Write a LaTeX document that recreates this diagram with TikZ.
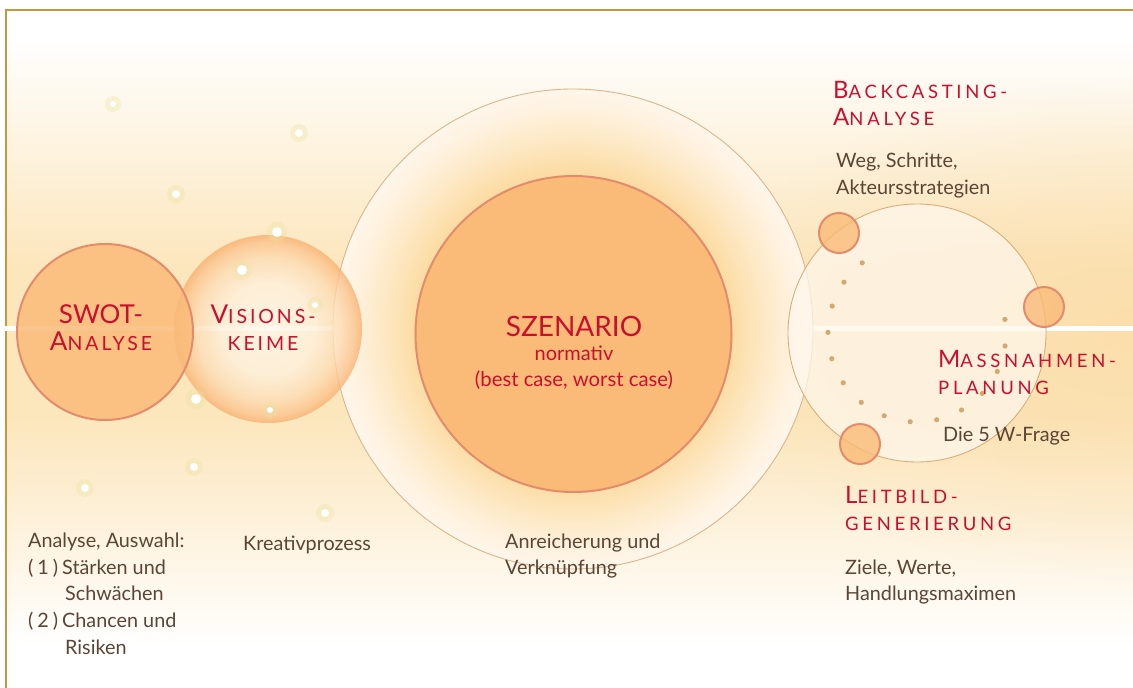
\documentclass[tikz,border=0pt]{standalone}
\usepackage{fontspec}
\setmainfont{Lato}
\usetikzlibrary{positioning,fadings}

\definecolor{framebrown}{HTML}{C8963E}
\definecolor{bgmid}{HTML}{FCE6BC}
\definecolor{bgwarm}{HTML}{FBD89E}
\definecolor{headred}{HTML}{C8102E}
\definecolor{bodybrown}{HTML}{5B4535}
\definecolor{discfill}{HTML}{FABB78}
\definecolor{discrim}{HTML}{E28C6C}
\definecolor{haloline}{HTML}{D8B68E}
\definecolor{loopline}{HTML}{D9AE78}
\definecolor{loopfill}{HTML}{FFF7EC}
\definecolor{dotbrown}{HTML}{D4A96F}
\definecolor{sparkglow}{HTML}{ECE3A0}
\definecolor{haloA}{HTML}{FCDCA4}
\definecolor{haloB}{HTML}{FDE9C6}
\definecolor{haloC}{HTML}{FFF3E3}
\definecolor{haloD}{HTML}{FFF6EA}
\definecolor{visA}{HTML}{FFF8EC}
\definecolor{visB}{HTML}{FEF0DC}
\definecolor{visC}{HTML}{FDDDB6}
\definecolor{visD}{HTML}{FBC48E}
\definecolor{visE}{HTML}{F8B070}

% the path fills the middle 50bp of each shading
\pgfdeclareverticalshading{bgglow}{100bp}{color(0bp)=(white); color(28bp)=(white);
  color(45bp)=(bgmid); color(56bp)=(bgmid); color(73bp)=(white); color(100bp)=(white)}
\pgfdeclareradialshading{haloglow}{\pgfpointorigin}{color(0bp)=(haloA); color(16.5bp)=(haloA);
  color(20bp)=(haloB); color(23.5bp)=(haloC); color(25bp)=(haloD); color(50bp)=(haloD)}
\pgfdeclareradialshading{visionglow}{\pgfpointorigin}{color(0bp)=(visA); color(12.5bp)=(visB);
  color(19bp)=(visC); color(23bp)=(visD); color(25bp)=(visE); color(50bp)=(visE)}
\tikzfading[name=warmfade,inner color=transparent!45,outer color=transparent!100]

% small caps made by hand: first letter, then spaced capitals
\newcommand{\scbig}[2]{{\fontsize{26}{27.4}\selectfont#1}{\fontsize{19.5}{27.4}\selectfont\addfontfeatures{LetterSpace=15}#2}}
\newcommand{\scsmall}[2]{{\fontsize{24}{26.7}\selectfont#1}{\fontsize{18.5}{26.7}\selectfont\addfontfeatures{LetterSpace=20}#2}}

\tikzset{
  disc/.style={circle,draw=discrim,line width=2pt,fill=discfill,inner sep=0pt},
  ring/.style={circle,draw=haloline,line width=0.9pt,inner sep=0pt},
  spark/.style={circle,fill=white,inner sep=0pt},
  heading/.style={text=headred,inner sep=0pt},
  remark/.style={text=bodybrown,inner sep=0pt,align=left,font=\fontsize{19.8}{26.6}\selectfont}
}

\begin{document}
\begin{tikzpicture}[x=1pt,y=-1pt]
    \useasboundingbox (0,0) rectangle (1133,688);
    % draw the background and the frame
    \shade[shading=bgglow] (6,10) rectangle (1133,688);
    \begin{scope}
    \clip (6,10) rectangle (1133,688);
    \fill[bgwarm,path fading=warmfade] (1133,330) ellipse (430pt and 250pt);
    \end{scope}
    \draw[framebrown,line width=2pt] (6,688) -- (6,10) -- (1133,10);
    \draw[white,line width=5pt] (0,328) -- (1133,328);
    % draw the circles from left to right
    \node[ring,minimum size=480pt,shade,shading=haloglow] (halo) at (573,329) {};
    \node[circle,inner sep=0pt,minimum size=188pt,shade,shading=visionglow,fill opacity=.8] (visions) at (268,329) {};
    \node[disc,minimum size=176pt,fill opacity=.85] (swot) at (105,332) {};
    \node[disc,minimum size=316pt] (scenario) at (573.5,334) {};
    \node[ring,draw=loopline,minimum size=258pt,fill=loopfill,fill opacity=.75] (loop) at (917,333) {};
    % dotted path around the loop
    \foreach \a in {0,...,14}
    \fill[dotbrown] (loop.center) ++(128+\a*17.2:89pt) circle (2.6pt);
    \foreach \name/\pos in {back/{839,233}, plan/{1044,307}, lead/{860,444}}
    \node[disc,minimum size=40pt,fill opacity=.8] (\name) at (\pos) {};
    % draw the sparkles
    \foreach \pos/\r [count=\i] in {{113,104}/3, {299,133}/4, {176,194}/4, {277,232}/5, {242,270}/5,
        {315,305}/3, {196,399}/5, {270,410}/3, {194,467}/4, {85,488}/4, {325,513}/4}
    {
    \fill[sparkglow,opacity=.35] (\pos) circle (\r pt+5pt);
    \node[spark,minimum size=2*\r pt] (spark\i) at (\pos) {};
    }
    % headings
    \node[heading,anchor=north,align=center,font=\fontsize{26}{27.4}\selectfont] (swot title) at (101,304.3)
        {SWOT-\\\scbig{A}{NALYSE}};
    \node[heading,anchor=north,align=center,font=\fontsize{26}{27.4}\selectfont] (visions title) at (263,304.3)
        {\scbig{V}{ISIONS-}\\\scbig{}{KEIME}};
    \node[heading,anchor=base,font=\fontsize{28}{29}\selectfont] (scenario title) at (574,336.7) {SZENARIO};
    \node[heading,anchor=base,font=\fontsize{20}{21}\selectfont] (scenario kind) at (574,360) {normativ};
    \node[heading,anchor=base,font=\fontsize{20.3}{21}\selectfont] (scenario cases) at (574,386.7) {(best case, worst case)};
    \node[heading,anchor=north west,align=left,font=\fontsize{24}{26.7}\selectfont] (back title) at (833,81.5)
        {\scsmall{B}{ACKCASTING-}\\\scsmall{A}{NALYSE}};
    \node[heading,anchor=north west,align=left,font=\fontsize{24}{26.7}\selectfont] (plan title) at (938,350.5)
        {\scsmall{M}{ASSNAHMEN-}\\\scsmall{}{PLANUNG}};
    \node[heading,anchor=north west,align=left,font=\fontsize{24}{26.7}\selectfont] (lead title) at (845,486)
        {\scsmall{L}{EITBILD-}\\\scsmall{}{GENERIERUNG}};
    % remarks below the headings
    \node[remark,anchor=north west] (swot text) at (28,533)
        {Analyse, Auswahl:\\\makebox[34pt][l]{(\hspace{4pt}1\hspace{4pt})}Stärken und\\\hspace*{37pt}Schwächen\\
         \makebox[34pt][l]{(\hspace{4pt}2\hspace{4pt})}Chancen und\\\hspace*{37pt}Risiken};
    \node[remark,anchor=base west] (visions text) at (243,550) {Kreativprozess};
    \node[remark,anchor=north west] (scenario text) at (505,533.5) {Anreicherung und\\Verknüpfung};
    \node[remark,anchor=north west] (back text) at (836,153) {Weg, Schritte,\\Akteursstrategien};
    \node[remark,anchor=base west] (plan text) at (943,441) {Die 5 W-Frage};
    \node[remark,anchor=north west] (lead text) at (845,559.5) {Ziele, Werte,\\Handlungsmaximen};
\end{tikzpicture}
\end{document}
